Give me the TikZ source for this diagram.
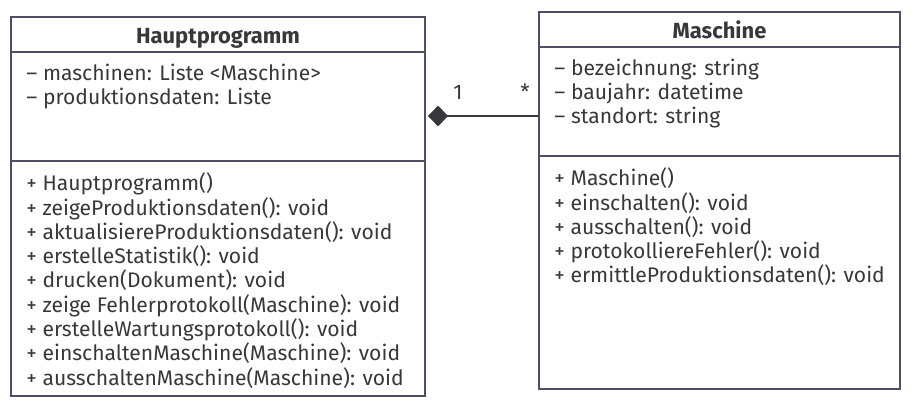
\documentclass[tikz,border=0pt]{standalone}
\usepackage{fontspec}
\setmainfont{Fira Sans}
\usepackage{xcolor}
\usetikzlibrary{positioning,arrows.meta,calc}
\definecolor{umlline}{RGB}{78,78,104}
\definecolor{umltext}{RGB}{55,55,60}
\tikzset{
  compartment/.style={
     rectangle,
     draw=umlline,
     line width=0.9pt,
     inner sep=0pt,
     outer sep=0pt,
     anchor=north west
  },
  class name/.style={
     font=\fontsize{15.6}{18}\selectfont\bfseries,
     text=umltext,
     inner sep=0pt,
     anchor=base
  },
  members/.style={
     font=\fontsize{15}{17.3}\selectfont,
     text=umltext,
     align=left,
     inner sep=0pt,
     anchor=north west
  },
  composition/.style={
     draw=umltext,
     line width=1pt,
     {Diamond[length=0.5cm,width=0.52cm]}-
  },
  multiplicity/.style={
     font=\fontsize{15}{17}\selectfont,
     text=umltext,
     inner sep=0pt,
     anchor=base
  }
}

\begin{document}
\begin{tikzpicture}
    \useasboundingbox (0,0) rectangle (22.875,10.175);

    % Class Hauptprogramm
    \node[compartment, minimum width=10.35cm, minimum height=0.875cm] (hp name) at (0.275,9.75) {};
    \node[compartment, minimum width=10.35cm, minimum height=2.725cm] (hp attr) at (hp name.south west) {};
    \node[compartment, minimum width=10.35cm, minimum height=5.875cm] (hp ops) at (hp attr.south west) {};
    \node[class name] (hp title) at ($(hp name.south)+(0,0.225)$) {Hauptprogramm};
    \node[members] (hp attr text) at ($(hp attr.north west)+(0.38,-0.29)$) {%
        – maschinen: Liste <Maschine>\\
        – produktionsdaten: Liste};
    \node[members] (hp ops text) at ($(hp ops.north west)+(0.38,-0.29)$) {%
        + Hauptprogramm()\\
        + zeigeProduktionsdaten(): void\\
        + aktualisiereProduktionsdaten(): void\\
        + erstelleStatistik(): void\\
        + drucken(Dokument): void\\
        + zeige Fehlerprotokoll(Maschine): void\\
        + erstelleWartungsprotokoll(): void\\
        + einschaltenMaschine(Maschine): void\\
        + ausschaltenMaschine(Maschine): void};

    % Class Maschine
    \node[compartment, minimum width=9.025cm, minimum height=0.875cm] (m name) at (13.475,9.875) {};
    \node[compartment, minimum width=9.025cm, minimum height=2.725cm] (m attr) at (m name.south west) {};
    \node[compartment, minimum width=9.025cm, minimum height=5.825cm] (m ops) at (m attr.south west) {};
    \node[class name] (m title) at ($(m name.south)+(0,0.225)$) {Maschine};
    \node[members] (m attr text) at ($(m attr.north west)+(0.38,-0.29)$) {%
        – bezeichnung: string\\
        – baujahr: datetime\\
        – standort: string};
    \node[members] (m ops text) at ($(m ops.north west)+(0.38,-0.29)$) {%
        + Maschine()\\
        + einschalten(): void\\
        + ausschalten(): void\\
        + protokolliereFehler(): void\\
        + ermittleProduktionsdaten(): void};

    % Composition
    \coordinate (diamond tip) at ($(hp attr.north east)+(0.075,-1.6)$);
    \draw[composition] (diamond tip) -- (diamond tip -| m attr.west);
    \node[multiplicity] (mult one) at ($(diamond tip)+(0.75,0.425)$) {1};
    \node[multiplicity] (mult many) at ($(diamond tip -| m attr.west)+(-0.35,0.425)$) {*};
\end{tikzpicture}
\end{document}
